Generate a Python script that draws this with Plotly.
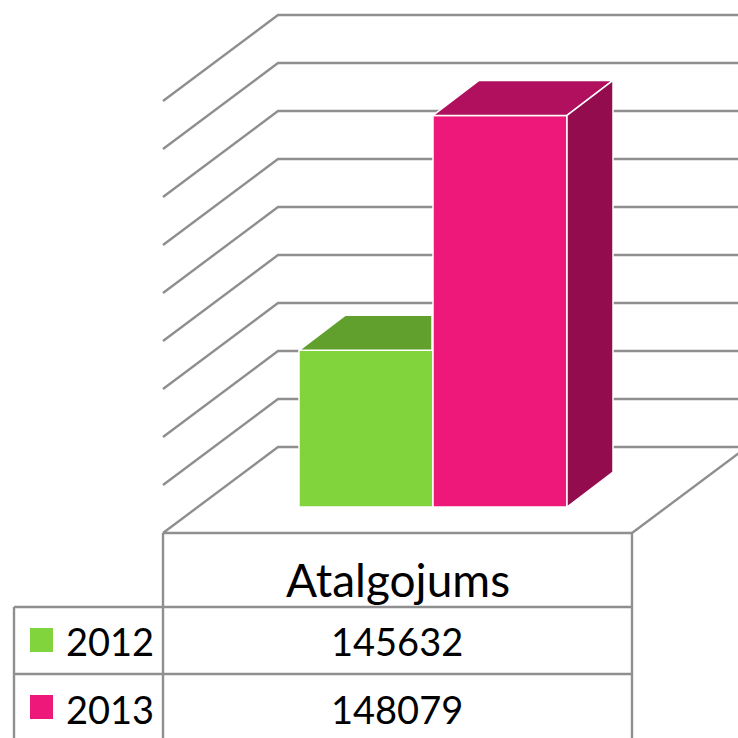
import plotly.graph_objects as go

# ---- data ----
category = "Atalgojums"
series_names = ["2012", "2013"]
series_values = [145632, 148079]
tick_values = [144000, 144500, 145000, 145500, 146000, 146500, 147000, 147500, 148000, 148500]
front_colors = ["#82d43c", "#ed1879"]
top_colors = ["#62a02e", "#b1105f"]
side_color = "#930c4e"
grid_color = "#8f8f8f"

# ---- layout constants (pixels) ----
W = H = 738
PX_PER_UNIT = 0.096
BASE_VALUE = 144000
BASE_PX = 507
y_range = [BASE_VALUE - (H - BASE_PX) / PX_PER_UNIT, BASE_VALUE + BASE_PX / PX_PER_UNIT]
CAT_CENTER = 433
CAT_WIDTH = 469
BAR_W = 134
DEPTH_X, DEPTH_Y = 46, 35
LEFT, RIGHT, BACK_X = 163, 632, 278
FRONT_Y, BACK_SHIFT = 533, 60
GRID_W = 2.4


def shifted(value, px):
    return value + px / PX_PER_UNIT


fig = go.Figure()

# walls and floor grid (behind the bars)
for t in tick_values:
    back = shifted(t, BACK_SHIFT)
    left_end = shifted(t, -26)
    fig.add_trace(go.Scatter(
        x=[LEFT, BACK_X, 760], y=[left_end, back, back], mode="lines",
        line=dict(color=grid_color, width=GRID_W), xaxis="x", yaxis="y",
        showlegend=False, hoverinfo="skip"))
# right edge of the floor
fig.add_trace(go.Scatter(
    x=[RIGHT, RIGHT + BACK_X - LEFT],
    y=[shifted(tick_values[0], -26), shifted(tick_values[0], BACK_SHIFT)], mode="lines",
    line=dict(color=grid_color, width=GRID_W), xaxis="x", yaxis="y",
    showlegend=False, hoverinfo="skip"))

# bars through the category axis
for name, v, c in zip(series_names, series_values, front_colors):
    fig.add_trace(go.Bar(
        x=[category], y=[v - BASE_VALUE], base=BASE_VALUE, name=name,
        marker=dict(color=c, line=dict(color="white", width=1.5)),
        xaxis="x2", yaxis="y2", showlegend=False))

# 3D faces
pink_left = CAT_CENTER
lefts = [CAT_CENTER - BAR_W, CAT_CENTER]
dv = DEPTH_Y / PX_PER_UNIT
for k, (v, c, l) in enumerate(zip(series_values, top_colors, lefts)):
    r = l + BAR_W
    if k == 0:
        xs = [l, l + DEPTH_X, pink_left - 1, pink_left - 1, l]
        ys = [v, v + dv, v + dv, v, v]
    else:
        xs = [l, l + DEPTH_X, r + DEPTH_X, r, l]
        ys = [v, v + dv, v + dv, v, v]
    fig.add_trace(go.Scatter(
        x=xs, y=ys, mode="lines", fill="toself", fillcolor=c,
        line=dict(color="white", width=1.5), xaxis="x3", yaxis="y3",
        showlegend=False, hoverinfo="skip"))
v = series_values[1]
r = lefts[1] + BAR_W
fig.add_trace(go.Scatter(
    x=[r, r + DEPTH_X, r + DEPTH_X, r, r],
    y=[v, v + dv, BASE_VALUE + dv, BASE_VALUE, v],
    mode="lines", fill="toself", fillcolor=side_color,
    line=dict(color="white", width=1.5), xaxis="x3", yaxis="y3",
    showlegend=False, hoverinfo="skip"))


def py(px):
    return 1 - px / H


def px(x):
    return x / W


# data table
shapes = []
for x0, y0, x1, y1 in [
    (LEFT, FRONT_Y, RIGHT, FRONT_Y), (14, 607, RIGHT, 607), (14, 674, RIGHT, 674),
    (LEFT, FRONT_Y, LEFT, H + 5), (RIGHT, FRONT_Y, RIGHT, H + 5), (14, 607, 14, H + 5),
]:
    shapes.append(dict(type="line", xref="paper", yref="paper", x0=px(x0), x1=px(x1),
                       y0=py(y0), y1=py(y1), line=dict(color=grid_color, width=GRID_W)))
rows_y = [641, 709]
key_y = [(628, 652), (695, 719)]
for c, (a, b) in zip(front_colors, key_y):
    shapes.append(dict(type="rect", xref="paper", yref="paper", x0=px(30), x1=px(53),
                       y0=py(a), y1=py(b), fillcolor=c, line=dict(width=0)))

font = dict(family="Lato, Open Sans, sans-serif", color="#000000", size=38)
title_font = dict(family="Lato, Open Sans, sans-serif", color="#000000", size=46)
ann = [dict(text=category, x=px(398), y=py(579), xref="paper", yref="paper",
            xanchor="center", yanchor="middle", showarrow=False, font=title_font)]
for n, v, ry in zip(series_names, series_values, rows_y):
    ann.append(dict(text=n, x=px(110), y=py(ry), xref="paper", yref="paper",
                    xanchor="center", yanchor="middle", showarrow=False, font=font))
    ann.append(dict(text=str(v), x=px(397.5), y=py(ry), xref="paper", yref="paper",
                    xanchor="center", yanchor="middle", showarrow=False, font=font))

hidden = dict(visible=False, showgrid=False, zeroline=False, fixedrange=True)
fig.update_layout(
    width=W, height=H, margin=dict(l=0, r=0, t=0, b=0, pad=0),
    paper_bgcolor="white", plot_bgcolor="white",
    barmode="group", bargap=1 - 2 * BAR_W / CAT_WIDTH, bargroupgap=0,
    showlegend=False, shapes=shapes, annotations=ann,
    xaxis=dict(range=[0, W], **hidden),
    yaxis=dict(range=y_range, **hidden),
    xaxis2=dict(type="category", overlaying="x",
                range=[-CAT_CENTER / CAT_WIDTH, (W - CAT_CENTER) / CAT_WIDTH], **hidden),
    yaxis2=dict(range=y_range, overlaying="y", **hidden),
    xaxis3=dict(range=[0, W], overlaying="x", **hidden),
    yaxis3=dict(range=y_range, overlaying="y", **hidden),
)
fig.write_html("out.html", post_script="document.body.style.margin='0';document.body.style.overflow='hidden';",
               config=dict(displayModeBar=False))
